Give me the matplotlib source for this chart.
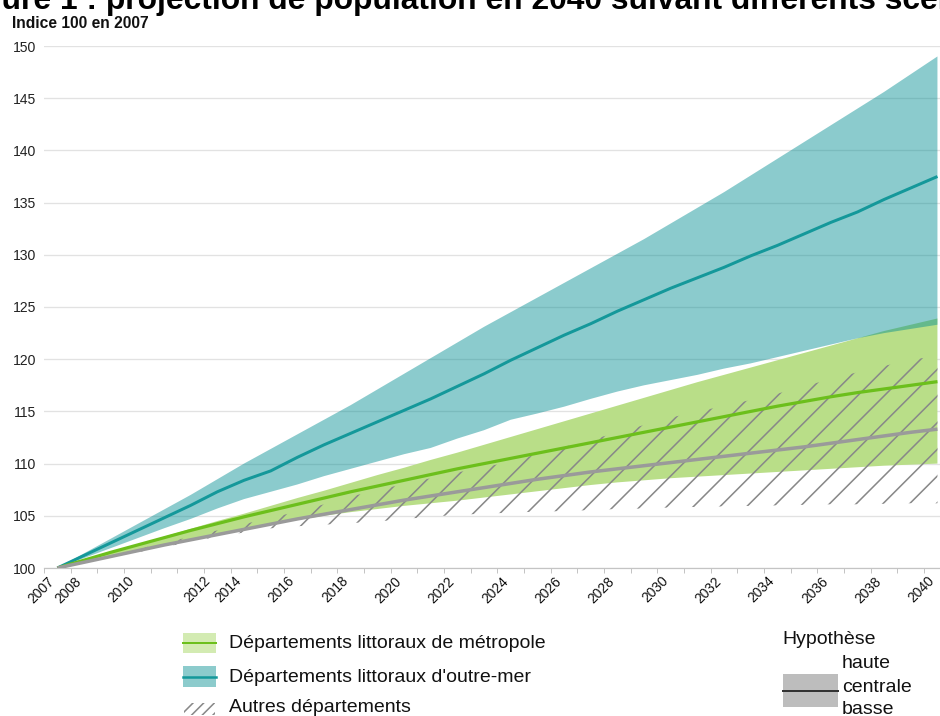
import matplotlib
matplotlib.use('Agg')
import matplotlib.pyplot as plt
import numpy as np
from matplotlib.patches import Rectangle
from matplotlib.lines import Line2D

# ---------------- data ----------------
years = list(range(2007, 2041))

outremer_haute = [100.0, 101.4, 102.8, 104.2, 105.6, 107.0, 108.5, 110.0, 111.4, 112.8,
                  114.2, 115.6, 117.1, 118.6, 120.1, 121.6, 123.1, 124.5, 125.9, 127.3,
                  128.7, 130.1, 131.5, 133.0, 134.5, 136.0, 137.6, 139.2, 140.8, 142.4,
                  144.0, 145.6, 147.3, 149.0]
outremer_centrale = [100.0, 101.2, 102.4, 103.6, 104.8, 106.0, 107.3, 108.4, 109.3, 110.6,
                     111.8, 112.9, 114.0, 115.1, 116.2, 117.4, 118.6, 119.9, 121.1, 122.3,
                     123.4, 124.6, 125.7, 126.8, 127.8, 128.8, 129.9, 130.9, 132.0, 133.1,
                     134.1, 135.3, 136.4, 137.5]
outremer_basse = [100.0, 100.95, 101.9, 102.85, 103.8, 104.7, 105.7, 106.6, 107.3, 108.0,
                  108.8, 109.5, 110.2, 110.9, 111.5, 112.4, 113.2, 114.2, 114.8, 115.45,
                  116.2, 116.9, 117.5, 118.0, 118.5, 119.1, 119.6, 120.2, 120.8, 121.4,
                  122.0, 122.5, 122.9, 123.3]

metro_haute = [100.0, 100.75, 101.5, 102.25, 103.0, 103.75, 104.5, 105.2, 105.95, 106.7,
               107.4, 108.15, 108.9, 109.6, 110.35, 111.05, 111.8, 112.55, 113.3, 114.05,
               114.8, 115.55, 116.3, 117.05, 117.8, 118.5, 119.2, 119.9, 120.6, 121.3,
               122.0, 122.7, 123.3, 123.9]
metro_centrale = [100.0, 100.75, 101.5, 102.2, 102.9, 103.6, 104.25, 104.9, 105.5, 106.1,
                  106.7, 107.3, 107.85, 108.4, 108.95, 109.5, 110.0, 110.5, 111.0, 111.5,
                  112.0, 112.5, 113.0, 113.5, 114.0, 114.5, 115.0, 115.5, 115.95, 116.4,
                  116.8, 117.15, 117.5, 117.85]
metro_basse = [100.0, 100.55, 101.1, 101.65, 102.2, 102.7, 103.2, 103.7, 104.15, 104.6,
               105.0, 105.35, 105.65, 105.95, 106.2, 106.45, 106.75, 107.05, 107.35, 107.65,
               107.95, 108.2, 108.4, 108.6, 108.75, 108.9, 109.05, 109.2, 109.35, 109.5,
               109.65, 109.8, 109.9, 110.0]

autres_haute = [100.0, 100.6, 101.2, 101.8, 102.4, 103.0, 103.6, 104.2, 104.8, 105.4,
                106.1, 106.85, 107.45, 108.05, 108.6, 109.15, 109.65, 110.2, 110.9, 111.6,
                112.3, 112.95, 113.7, 114.4, 115.0, 115.5, 116.1, 116.7, 117.4, 118.1,
                118.75, 119.35, 119.95, 120.3]
autres_centrale = [100.0, 100.55, 101.1, 101.65, 102.2, 102.7, 103.2, 103.7, 104.2, 104.7,
                   105.15, 105.6, 106.05, 106.5, 106.9, 107.3, 107.7, 108.1, 108.5, 108.85,
                   109.2, 109.5, 109.8, 110.1, 110.4, 110.7, 111.0, 111.3, 111.6, 111.95,
                   112.3, 112.65, 113.0, 113.3]
autres_basse = [100.0, 100.5, 101.0, 101.5, 102.0, 102.5, 103.0, 103.4, 103.8, 104.0,
                104.15, 104.3, 104.45, 104.7, 104.9, 105.1, 105.2, 105.3, 105.4, 105.45,
                105.55, 105.65, 105.7, 105.8, 105.85, 105.9, 105.95, 106.0, 106.05, 106.1,
                106.1, 106.15, 106.2, 106.2]

tick_label_years = [2007, 2008, 2010, 2012, 2014, 2016, 2018, 2020, 2022, 2024, 2026,
                    2028, 2030, 2032, 2034, 2036, 2038, 2040]
tick_label_pos = [2007, 2008, 2010, 2012.85, 2014, 2016, 2018, 2020, 2022, 2024, 2026,
                  2028, 2030, 2032, 2034, 2036, 2038, 2040]
y_ticks = list(range(100, 151, 5))

title = "Figure 1 : projection de population en 2040 suivant différents scénarios"
ylabel_txt = "Indice 100 en 2007"
legend_labels = ["Départements littoraux de métropole",
                 "Départements littoraux d'outre-mer",
                 "Autres départements"]
hyp_title = "Hypothèse"
hyp_labels = ["haute", "centrale", "basse"]

# ---------------- style ----------------
DPI = 160
W, H = 940, 716
PX = 72.0 / DPI  # points per pixel

plt.rcParams['font.family'] = ['Liberation Sans', 'DejaVu Sans']
plt.rcParams['hatch.linewidth'] = 0.7
plt.rcParams['hatch.color'] = '#8a8a8a'

TEAL_FILL = '#038e92'
TEAL_LINE = '#14989a'
GREEN_FILL = '#b9de88'
GREEN_LINE = '#6cbf1c'
GRAY_LINE = '#9a9a9a'
HATCH_COL = '#888888'

fig = plt.figure(figsize=(W / DPI, H / DPI), dpi=DPI)

x_left = 44.0
step = 26.67
x_right = x_left + 34 * step
y_bot, y_top = 568.0, 46.0
ax = fig.add_axes([x_left / W, 1 - y_bot / H, (x_right - x_left) / W, (y_bot - y_top) / H])

ax.set_xlim(2006.5, 2040.5)
ax.set_ylim(100, 150)

# fills
ax.fill_between(years, metro_basse, metro_haute, facecolor=GREEN_FILL, edgecolor='none',
                linewidth=0, zorder=1)
ax.fill_between(years, outremer_basse, outremer_haute, facecolor=TEAL_FILL, alpha=0.46,
                edgecolor='none', linewidth=0, zorder=2)
ax.fill_between(years, autres_basse, autres_haute, facecolor='none', edgecolor=HATCH_COL,
                hatch='//', linewidth=0, zorder=3)

# central lines
ax.plot(years, outremer_centrale, color=TEAL_LINE, lw=3 * PX, zorder=4, solid_capstyle='butt')
ax.plot(years, metro_centrale, color=GREEN_LINE, lw=3.2 * PX, zorder=5, solid_capstyle='butt')
ax.plot(years, autres_centrale, color=GRAY_LINE, lw=3.5 * PX, zorder=6, solid_capstyle='butt')

# axes styling
for s in ['top', 'right', 'left']:
    ax.spines[s].set_visible(False)
ax.spines['bottom'].set_color('#c4c4c4')
ax.spines['bottom'].set_linewidth(1.2 * PX)
ax.spines['bottom'].set_zorder(0.5)

ax.set_yticks(y_ticks)
ax.set_yticklabels([str(v) for v in y_ticks])
ax.tick_params(axis='y', length=0, pad=8 * PX, labelsize=14 * PX, labelcolor='#222222')
ax.yaxis.grid(True, color='#e2e2e2', linewidth=1.3 * PX)
ax.set_axisbelow(True)

ax.set_xticks(np.arange(2006.5, 2041.0, 1.0))
ax.set_xticklabels([])
ax.tick_params(axis='x', which='major', length=4.5 * PX, width=1 * PX, color='#c4c4c4',
               direction='out')
ax.set_xticks(tick_label_pos, minor=True)
ax.set_xticklabels([str(y) for y in tick_label_years], minor=True)
ax.tick_params(axis='x', which='minor', length=0, pad=6 * PX, labelsize=13.8 * PX,
               labelcolor='#111111')
for lbl in ax.get_xticklabels(minor=True):
    lbl.set_rotation(45)
    lbl.set_ha('right')
    lbl.set_va('top')
    lbl.set_rotation_mode('default')

# ---------------- texts ----------------
def fx(x):
    return x / W

def fy(y):
    return 1 - y / H

TITLE_FS = 31.8 * PX
renderer = fig.canvas.get_renderer()
tmp1 = fig.text(0, 0, "Figure 1 : projection", fontsize=TITLE_FS, fontweight='bold')
tmp2 = fig.text(0, 0, "ure 1 : projection", fontsize=TITLE_FS, fontweight='bold')
off = tmp1.get_window_extent(renderer).width - tmp2.get_window_extent(renderer).width
tmp1.remove()
tmp2.remove()
fig.text(fx(-off + 1), fy(8.5), title, fontsize=TITLE_FS, fontweight='bold',
         va='baseline', ha='left', color='#000000')

fig.text(fx(12.5), fy(28.3), ylabel_txt, fontsize=15.6 * PX, fontweight='bold',
         va='baseline', ha='left', color='#111111')

# ---------------- legend ----------------
def rect(x, y, w, h, **kw):
    fig.patches.append(Rectangle((fx(x), fy(y + h)), w / W, h / H,
                                 transform=fig.transFigure, figure=fig, **kw))

def hline(x1, x2, y, **kw):
    fig.lines.append(Line2D([fx(x1), fx(x2)], [fy(y), fy(y)],
                            transform=fig.transFigure, figure=fig, **kw))

LEG_FS = 19.5 * PX
rect(183, 633, 33, 20, facecolor='#d3ebb2', edgecolor='none', linewidth=0)
hline(183, 216, 643, color=GREEN_LINE, lw=2 * PX)
rect(183, 666, 33, 21, facecolor='#8ccbcc', edgecolor='none', linewidth=0)
hline(183, 216, 677, color=TEAL_LINE, lw=2.5 * PX)
rect(184, 703, 31, 12, facecolor='none', edgecolor=HATCH_COL, hatch='/////', linewidth=0)

for lab, yc in zip(legend_labels, [643, 677, 708]):
    fig.text(fx(229), fy(yc), lab, fontsize=LEG_FS, va='center', ha='left', color='#111111')

fig.text(fx(782), fy(639), hyp_title, fontsize=LEG_FS, va='center', ha='left', color='#111111')
rect(783, 674, 55, 33, facecolor='#bdbdbd', edgecolor='none', linewidth=0)
hline(783, 838, 691, color='#333333', lw=2 * PX)
for lab, yc in zip(hyp_labels, [664, 687, 709]):
    fig.text(fx(842), fy(yc), lab, fontsize=LEG_FS, va='center', ha='left', color='#111111')

fig.savefig('out.png', dpi=DPI)
